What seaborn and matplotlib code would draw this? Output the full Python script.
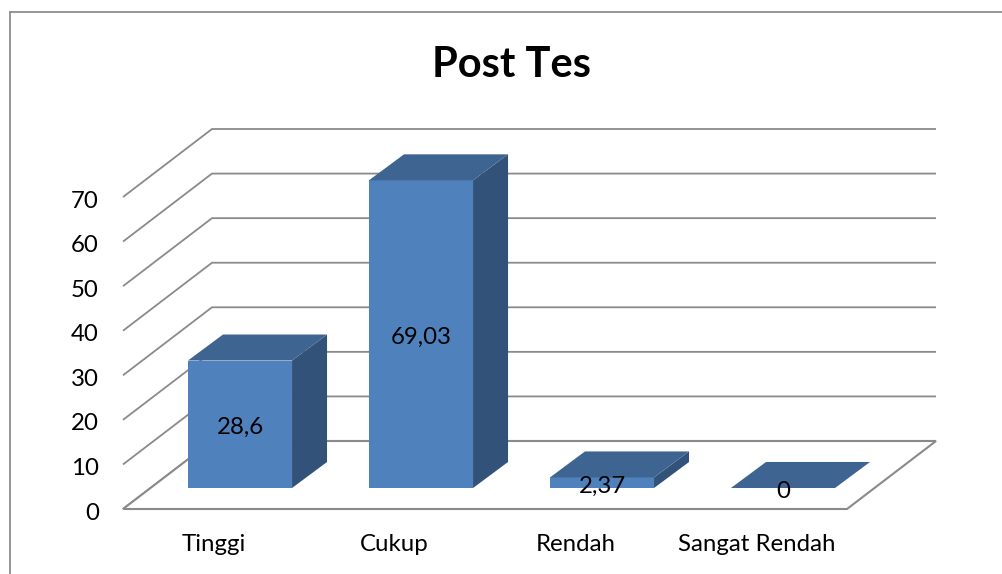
import matplotlib
matplotlib.use("Agg")
import matplotlib.pyplot as plt
from matplotlib.lines import Line2D
from matplotlib.transforms import ScaledTranslation
import pandas as pd
import seaborn as sns

categories = ["Tinggi", "Cukup", "Rendah", "Sangat Rendah"]
values = [28.6, 69.03, 2.37, 0]
value_labels = ["28,6", "69,03", "2,37", "0"]
y_ticks = [0, 10, 20, 30, 40, 50, 60, 70]
title = "Post Tes"

W, H = 1002, 574
FRONT, SIDE, TOP = "#4F81BD", "#32527A", "#3E6592"
GRID = "#8A8A8A"
LABEL_SIZE = 17.3

sns.set_theme(style="white")
plt.rcParams["font.family"] = ["Lato", "DejaVu Sans"]
fig = plt.figure(figsize=(W / 100, H / 100), dpi=100, facecolor="white")

# front plane of the floor: x 123..847 px, y 509 px at 0, 4.457 px per unit
px_x = 724 / 4
px_y = 4.457
rect = [123 / W, (H - 509) / H, 724 / W, 70 * px_y / H]
ax = fig.add_axes(rect, zorder=1)
ax.set_xlim(-0.5, 3.5)
ax.set_ylim(0, 70)
ax.patch.set_alpha(0)
sns.despine(ax=ax, left=True, bottom=True)
ax.set_xticks(range(4), categories)
ax.set_yticks(y_ticks)
ax.tick_params(axis="both", length=0, labelsize=LABEL_SIZE, colors="black", labelcolor="black")
ax.tick_params(axis="y", pad=17.5)
ax.tick_params(axis="x", pad=18.3)
shift = ScaledTranslation(0, -1.5 / 72, fig.dpi_scale_trans)
for lab in ax.get_yticklabels():
    lab.set_transform(lab.get_transform() + shift)

# oblique walls and floor
wall_dx = 89 / px_x
wall_dy = 68 / px_y
for v in y_ticks:
    ax.plot([-0.5, -0.5 + wall_dx, 3.5 + wall_dx], [v, v + wall_dy, v + wall_dy],
            color=GRID, lw=1.3, clip_on=False, solid_capstyle="butt", solid_joinstyle="miter")
ax.fill([-0.5, 3.5, 3.5 + wall_dx, -0.5 + wall_dx], [0, 0, wall_dy, wall_dy],
        facecolor="white", edgecolor=GRID, lw=1.5, clip_on=False, zorder=2.5)

# bar plane, shifted into the depth of the floor
ax2 = fig.add_axes([(123 + 26.5) / W, (H - 488) / H, 724 / W, 70 * px_y / H], zorder=2)
df = pd.DataFrame({"kategori": categories, "nilai": values})
sns.barplot(data=df, x="kategori", y="nilai", color=FRONT, saturation=1, width=0.575, ax=ax2, zorder=3)
ax2.set_xlim(-0.5, 3.5)
ax2.set_ylim(0, 70)
ax2.patch.set_alpha(0)
ax2.set_xlabel("")
ax2.set_ylabel("")
ax2.set_xticks([])
ax2.set_yticks([])
sns.despine(ax=ax2, left=True, bottom=True)

bar_dx = 35 / px_x
bar_dy = 26 / px_y
for bar, txt in zip(list(ax2.patches), value_labels):
    x0, w, h = bar.get_x(), bar.get_width(), bar.get_height()
    bar.set_linewidth(0)
    x1 = x0 + w
    ax2.fill([x1, x1 + bar_dx, x1 + bar_dx, x1], [0, bar_dy, h + bar_dy, h],
             color=SIDE, lw=0, clip_on=False, zorder=2.8)
    ax2.fill([x0, x1, x1 + bar_dx, x0 + bar_dx], [h, h, h + bar_dy, h + bar_dy],
             color=TOP, lw=0, clip_on=False, zorder=3.2)
    ax2.text(x0 + w / 2, h / 2 - 0.75, txt, ha="center", va="center", fontsize=LABEL_SIZE,
             color="black", zorder=5, clip_on=False)

# outer chart frame
fig.add_artist(Line2D([10 / W, 10 / W], [0, 1 - 12 / H], color="#8E8E8E", lw=1.3))
fig.add_artist(Line2D([10 / W, 1], [1 - 12 / H, 1 - 12 / H], color="#8E8E8E", lw=1.3))

fig.suptitle(title, x=511 / W, y=1 - 65 / H, ha="center", va="center",
             fontsize=30, fontweight="bold", color="black")

fig.savefig("out.png", dpi=100)
